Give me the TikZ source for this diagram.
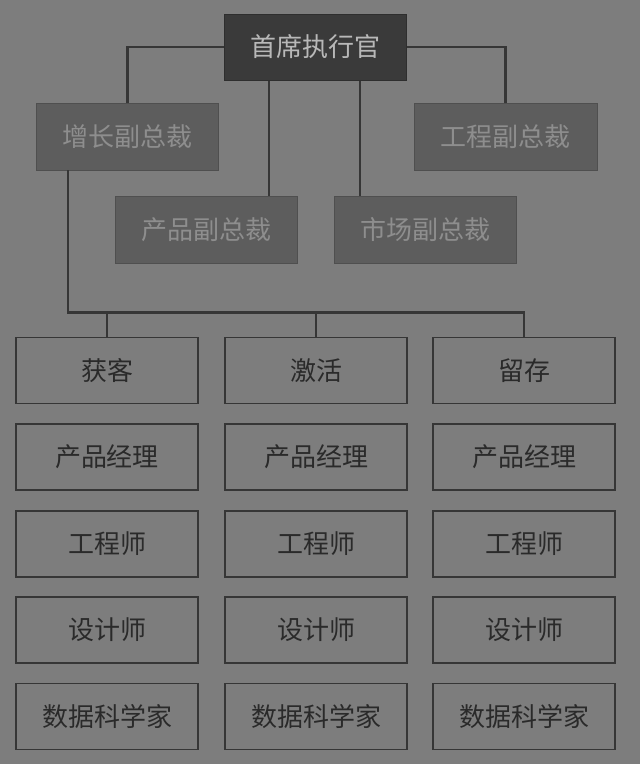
\documentclass[tikz,border=0pt]{standalone}
\usepackage{fontspec}
\newfontfamily\cjk{Noto Sans CJK SC}
\usetikzlibrary{positioning,calc}
\definecolor{bg}{HTML}{7D7D7D}
\definecolor{ceofill}{HTML}{3A3A3A}
\definecolor{ceotext}{HTML}{B8B8B8}
\definecolor{vpfill}{HTML}{5D5D5D}
\definecolor{vptext}{HTML}{8E8E8E}
\definecolor{linec}{HTML}{363636}
\definecolor{celltext}{HTML}{2A2A2A}
\tikzset{
  ceobox/.style={fill=ceofill, draw=ceofill!80!black, line width=1pt, minimum width=182pt, minimum height=66pt, inner sep=0pt, text=ceotext, font=\cjk\fontsize{26}{26}\selectfont},
  vpbox/.style={fill=vpfill, draw=vpfill!85!black, line width=0.8pt, minimum width=182pt, minimum height=67pt, inner sep=0pt, text=vptext, font=\cjk\fontsize{26}{26}\selectfont},
  cellbox/.style={fill=bg, draw=linec, line width=1.8pt, minimum width=182pt, minimum height=66pt, inner sep=0pt, text=celltext, font=\cjk\fontsize{26}{26}\selectfont},
  conn/.style={draw=linec, line width=2.2pt},
}
\begin{document}
\begin{tikzpicture}[x=1pt,y=-1pt]
\fill[bg] (0,0) rectangle (640,764);
\useasboundingbox (0,0) rectangle (640,764);

\node[ceobox] (ceo) at (315,47) {首席执行官};
\node[vpbox] (growth) at (127.5,136.5) {增长副总裁};
\node[vpbox, minimum width=183pt] (eng) at (505.5,136.5) {工程副总裁};
\node[vpbox] (prod) at (206,229.5) {产品副总裁};
\node[vpbox] (mkt) at (425,229.5) {市场副总裁};

\node[cellbox] (c11) at (107,370.5) {获客};
\node[cellbox] (c12) at (316,370.5) {激活};
\node[cellbox] (c13) at (524,370.5) {留存};
\node[cellbox] (c21) at (107,457) {产品经理};
\node[cellbox] (c22) at (316,457) {产品经理};
\node[cellbox] (c23) at (524,457) {产品经理};
\node[cellbox] (c31) at (107,544) {工程师};
\node[cellbox] (c32) at (316,544) {工程师};
\node[cellbox] (c33) at (524,544) {工程师};
\node[cellbox] (c41) at (107,630) {设计师};
\node[cellbox] (c42) at (316,630) {设计师};
\node[cellbox] (c43) at (524,630) {设计师};
\node[cellbox] (c51) at (107,716.5) {数据科学家};
\node[cellbox] (c52) at (316,716.5) {数据科学家};
\node[cellbox] (c53) at (524,716.5) {数据科学家};

% connectors from CEO
\draw[conn] (ceo.west) -| (growth.north);
\draw[conn] (ceo.east) -| (eng.north);
\draw[conn] ([xshift=-46pt]ceo.south) -- ([xshift=-46pt]ceo.south |- prod.north);
\draw[conn] ([xshift=45pt]ceo.south) -- ([xshift=45pt]ceo.south |- mkt.north);

% growth bus
\coordinate (gs) at ([xshift=32pt]growth.south west);
\coordinate (bus) at ($(gs)+(0,142)$);
\draw[conn] (gs) -- (bus) -| (c13.north);
\draw[conn] (bus -| c11.north) -- (c11.north);
\draw[conn] (bus -| c12.north) -- (c12.north);
\end{tikzpicture}
\end{document}
